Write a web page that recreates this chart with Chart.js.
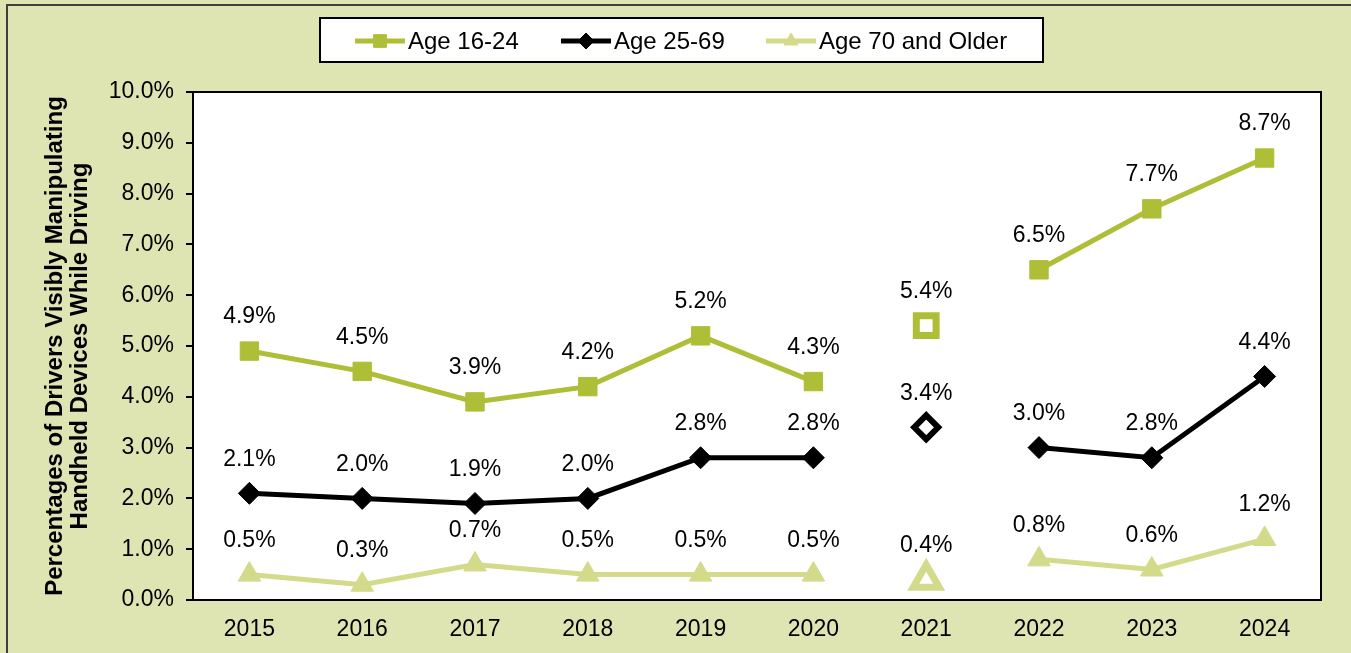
<!DOCTYPE html>
<html>
<head>
<meta charset="utf-8">
<script src="https://cdn.jsdelivr.net/npm/chart.js@4"></script>
<style>
  html, body { margin: 0; padding: 0; background: #dfe4b3; }
  canvas { display: block; }
</style>
</head>
<body>
<canvas id="driverChart" width="1351" height="653"></canvas>
<script>
// data
const years = ['2015', '2016', '2017', '2018', '2019', '2020', '2021', '2022', '2023', '2024'];
const age1624 = [4.9, 4.5, 3.9, 4.2, 5.2, 4.3, 5.4, 6.5, 7.7, 8.7];
const age2569 = [2.1, 2.0, 1.9, 2.0, 2.8, 2.8, 3.4, 3.0, 2.8, 4.4];
const age70 = [0.5, 0.3, 0.7, 0.5, 0.5, 0.5, 0.4, 0.8, 0.6, 1.2];
const seriesNames = ['Age 16-24', 'Age 25-69', 'Age 70 and Older'];
const gapYear = '2021';

const gapIndex = years.indexOf(gapYear);
const darkGreen = '#afbe37';
const black = '#000000';
const lightGreen = '#d3db8b';
const fontFamily = 'Arial, "Liberation Sans", sans-serif';

function makeSet(label, values, color, style, radius, gapRadius, gapBorder) {
    return {
        label: label,
        data: values,
        borderColor: color,
        backgroundColor: color,
        borderWidth: 5,
        pointStyle: style,
        pointRadius: values.map((v, i) => i === gapIndex ? gapRadius : radius),
        pointBackgroundColor: values.map((v, i) => i === gapIndex ? '#ffffff' : color),
        pointBorderColor: color,
        pointBorderWidth: values.map((v, i) => i === gapIndex ? gapBorder : 1),
        pointHoverRadius: radius,
        tension: 0,
        segment: {
            borderColor: c => (c.p0DataIndex === gapIndex || c.p1DataIndex === gapIndex) ? 'transparent' : color
        }
    };
}

const frame = {
    id: 'frame',
    beforeDraw(chart) {
        const { ctx, chartArea: a } = chart;
        ctx.save();
        ctx.fillStyle = '#dfe4b3';
        ctx.fillRect(0, 0, chart.width, chart.height);
        ctx.fillStyle = '#3d423b';
        ctx.fillRect(6, 4, chart.width, 2);
        ctx.fillRect(6, 4, 2, chart.height);
        ctx.fillStyle = '#ffffff';
        ctx.fillRect(a.left, a.top, a.right - a.left, a.bottom - a.top);
        ctx.restore();
    },
    beforeDatasetsDraw(chart) {
        const { ctx, chartArea: a } = chart;
        ctx.save();
        ctx.strokeStyle = '#000';
        ctx.lineWidth = 2;
        ctx.strokeRect(a.left, a.top, a.right - a.left, a.bottom - a.top);
        ctx.restore();
    },
    afterDatasetsDraw(chart) {
        const ctx = chart.ctx;
        ctx.save();
        ctx.font = '23px ' + fontFamily;
        ctx.fillStyle = '#000';
        ctx.textAlign = 'center';
        ctx.textBaseline = 'middle';
        chart.data.datasets.forEach((ds, di) => {
            chart.getDatasetMeta(di).data.forEach((pt, i) => {
                ctx.fillText(ds.data[i].toFixed(1) + '%', pt.x, pt.y - 34);
            });
        });

        // legend box
        ctx.fillStyle = '#ffffff';
        ctx.fillRect(320, 18, 723, 44);
        ctx.strokeStyle = '#000';
        ctx.lineWidth = 2;
        ctx.strokeRect(320, 18, 723, 44);
        const starts = [355, 561, 766];
        ctx.font = '24px ' + fontFamily;
        ctx.textAlign = 'left';
        chart.data.datasets.forEach((ds, di) => {
            const x0 = starts[di];
            const y0 = 41;
            ctx.strokeStyle = ds.borderColor;
            ctx.lineWidth = 5;
            ctx.beginPath();
            ctx.moveTo(x0, y0);
            ctx.lineTo(x0 + 50, y0);
            ctx.stroke();
            ctx.fillStyle = ds.borderColor;
            ctx.lineWidth = 1;
            Chart.helpers.drawPoint(ctx, { pointStyle: ds.pointStyle, radius: di === 0 ? 9 : 8, rotation: 0, borderWidth: 1 }, x0 + 25, y0);
            ctx.fillStyle = '#000';
            ctx.fillText(ds.label, x0 + 53, y0 + 1);
        });
        ctx.restore();
    }
};

new Chart(document.getElementById('driverChart'), {
    type: 'line',
    data: {
        labels: years,
        datasets: [
            makeSet(seriesNames[0], age1624, darkGreen, 'rect', 13, 14, 7),
            makeSet(seriesNames[1], age2569, black, 'rectRot', 11, 12, 6),
            makeSet(seriesNames[2], age70, lightGreen, 'triangle', 13, 15, 7)
        ]
    },
    options: {
        responsive: false,
        animation: false,
        layout: { padding: { top: 92, right: 30, left: 0, bottom: 0 } },
        plugins: {
            legend: { display: false },
            tooltip: { enabled: false }
        },
        scales: {
            x: {
                offset: true,
                grid: { display: false, drawTicks: false },
                border: { display: false },
                ticks: { color: '#000', font: { family: fontFamily, size: 23 }, padding: 16 },
                afterFit: s => { s.height = 53; }
            },
            y: {
                min: 0,
                max: 10,
                grid: { drawOnChartArea: false, drawTicks: true, tickLength: 7, color: '#000', lineWidth: 2 },
                border: { display: false },
                ticks: {
                    stepSize: 1,
                    padding: 12,
                    color: '#000',
                    font: { family: fontFamily, size: 23 },
                    callback: v => v.toFixed(1) + '%'
                },
                title: {
                    display: true,
                    text: ['Percentages of Drivers Visibly Manipulating', 'Handheld Devices While Driving'],
                    color: '#000',
                    font: { family: fontFamily, size: 24, weight: 'bold', lineHeight: 1.05 },
                    padding: { top: 43, bottom: 0 }
                },
                afterFit: s => { s.width = 193; }
            }
        }
    },
    plugins: [frame]
});
</script>
</body>
</html>
